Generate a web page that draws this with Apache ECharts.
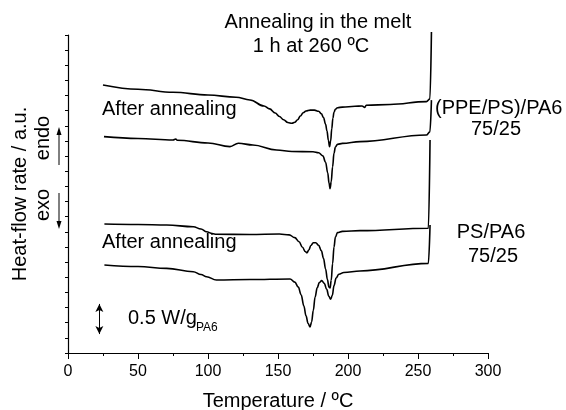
<!DOCTYPE html>
<html>
<head>
<meta charset="utf-8">
<title>DSC PS/PA6 blends</title>
<script src="https://cdn.jsdelivr.net/npm/echarts@6/dist/echarts.min.js"></script>
<style>body{margin:0;background:#fff}#main{width:566px;height:410px}</style>
</head>
<body>
<div id="main"></div>
<script type="text/javascript">
// heat flow curves (temperature in C, heat flow in a.u.)
var tBlendAnn = [25,50,75,100,120,130,140,144,148,151,154,157,160,162,164,166,168,170,173,176,179,181,182.5,184,185,186,186.8,187.6,188.4,189.2,190,191,192.5,196,205,210,212,213,230,256,258.5,259.6];
var hBlendAnn = [17.70,17.42,17.22,17.04,16.89,16.71,16.31,16.12,15.85,15.62,15.40,15.22,15.17,15.24,15.40,15.65,15.87,15.98,16.04,16.04,15.96,15.80,15.55,15.10,14.65,14.05,13.62,14.00,14.80,15.50,15.90,16.10,16.20,16.24,16.29,16.31,16.22,16.36,16.41,16.60,16.78,21.2];

var tBlend = [25.7,50,75,77,78,100,115.7,121.7,132,149,160,175,179,182,184,185.5,186.5,187.2,188,189,190,191,192.5,196,208.6,256,258.5,259.6];
var hBlend = [14.29,14.17,14.07,14.13,14.05,13.87,13.63,13.85,13.74,13.41,13.31,13.29,13.22,13.02,12.60,11.90,11.20,10.85,11.30,12.30,13.20,13.60,13.78,13.84,13.96,14.40,14.6,16.7];

var tPsAnn = [26,50,70.5,89.5,95,99,103,106,130,151,158,162,165,167.5,169.5,170.7,172,173.5,175.2,177,179,181,182.5,184,185.3,186.4,187.2,188,189,190,191,192.5,196,208.6,257.4,258.6];
var hPsAnn = [8.52,8.49,8.45,8.34,8.19,8.01,7.89,7.84,7.83,7.86,7.80,7.62,7.35,6.98,6.70,6.62,6.80,7.10,7.28,7.28,7.12,6.75,6.25,5.55,4.85,4.35,4.30,4.80,5.90,7.00,7.65,7.95,8.03,8.08,8.24,14.07];

var tPs = [26,50,70.5,89.5,95,99,106,130,158.6,162,164.5,166.5,168.5,170,171.5,172.9,174,175.2,176.5,178,179.5,181.2,183,184.8,186.3,187.6,188.8,190,191.5,193.5,197,208.6,257.4,258.6];
var hPs = [5.81,5.71,5.59,5.37,5.18,5.04,4.82,4.85,4.89,4.68,4.35,3.85,3.10,2.45,1.95,1.72,2.05,2.80,3.70,4.30,4.65,4.78,4.60,4.20,3.75,3.55,3.80,4.45,4.95,5.20,5.32,5.42,5.92,8.45];

// scale bar 0.5 W/g
var scaleX = 22.4;
var scaleY = [3.24, 1.25];

function zip(t, h) {
    var out = [];
    for (var i = 0; i < t.length; i++) out.push([t[i], h[i]]);
    return out;
}

var font = 'Liberation Sans, Arial, sans-serif';

function curve(t, h) {
    return {
        type: 'line',
        data: zip(t, h),
        showSymbol: false,
        smooth: 0.4,
        smoothMonotone: 'x',
        clip: false,
        silent: true,
        lineStyle: {color: '#000', width: 1.6}
    };
}

var series = [curve(tBlendAnn, hBlendAnn), curve(tBlend, hBlend), curve(tPsAnn, hPsAnn), curve(tPs, hPs)];
series[3].markLine = {
    silent: true,
    symbol: ['arrow', 'arrow'],
    symbolSize: [6, 8],
    label: {show: false},
    lineStyle: {color: '#000', width: 1, type: 'solid'},
    data: [[{coord: [scaleX, scaleY[0]]}, {coord: [scaleX, scaleY[1]]}]]
};

function txt(x, y, s, size, align) {
    return {type: 'text', x: x, y: y, style: {text: s, fontSize: size || 20, fontFamily: font, fill: '#000', align: align || 'center', verticalAlign: 'middle'}};
}

var myChart = echarts.init(document.getElementById('main'));
var option = {
    animation: false,
    grid: {left: 68, right: 78, top: 35, bottom: 57, outerBoundsMode: 'none'},
    xAxis: {
        type: 'value', min: 0, max: 300, interval: 50,
        name: 'Temperature / ºC', nameLocation: 'middle', nameGap: 38,
        nameTextStyle: {fontSize: 20, fontFamily: font, color: '#000'},
        axisLine: {lineStyle: {color: '#000', width: 1.2}},
        axisTick: {length: 6, lineStyle: {color: '#000'}},
        minorTick: {show: true, splitNumber: 2, length: 3, lineStyle: {color: '#000'}},
        axisLabel: {fontSize: 16, fontFamily: font, color: '#000', margin: 11},
        splitLine: {show: false}
    },
    yAxis: {
        type: 'value', min: 0, max: 21, interval: 1,
        name: 'Heat-flow rate / a.u.', nameLocation: 'middle', nameGap: 38,
        nameTextStyle: {fontSize: 20, fontFamily: font, color: '#000'},
        axisLine: {show: true, lineStyle: {color: '#000', width: 1.2}},
        axisTick: {show: true, length: 3, lineStyle: {color: '#000'}},
        axisLabel: {show: false},
        splitLine: {show: false}
    },
    graphic: [
        txt(318, 22, 'Annealing in the melt'),
        txt(311, 46, '1 h at 260 ºC'),
        txt(102, 109, 'After annealing', 20, 'left'),
        txt(102, 242, 'After annealing', 20, 'left'),
        txt(435, 108, '(PPE/PS)/PA6', 20, 'left'),
        txt(496, 129, '75/25'),
        txt(491, 232, 'PS/PA6'),
        txt(493, 256, '75/25'),
        txt(128, 318, '0.5 W/g', 20, 'left'),
        txt(196, 328, 'PA6', 12, 'left'),
        {type: 'text', x: 43, y: 138, rotation: Math.PI / 2,
         style: {text: 'endo', fontSize: 20, fontFamily: font, fill: '#000', align: 'center', verticalAlign: 'middle'}},
        {type: 'text', x: 43, y: 205, rotation: Math.PI / 2,
         style: {text: 'exo', fontSize: 20, fontFamily: font, fill: '#000', align: 'center', verticalAlign: 'middle'}},
        {type: 'line', shape: {x1: 59, y1: 131, x2: 59, y2: 165}, style: {stroke: '#000', lineWidth: 1}},
        {type: 'polygon', shape: {points: [[59, 127], [56.5, 135], [61.5, 135]]}, style: {fill: '#000'}},
        {type: 'line', shape: {x1: 59, y1: 193, x2: 59, y2: 225}, style: {stroke: '#000', lineWidth: 1}},
        {type: 'polygon', shape: {points: [[59, 229], [56.5, 221], [61.5, 221]]}, style: {fill: '#000'}}
    ],
    series: series
};
myChart.setOption(option);
</script>
</body>
</html>
